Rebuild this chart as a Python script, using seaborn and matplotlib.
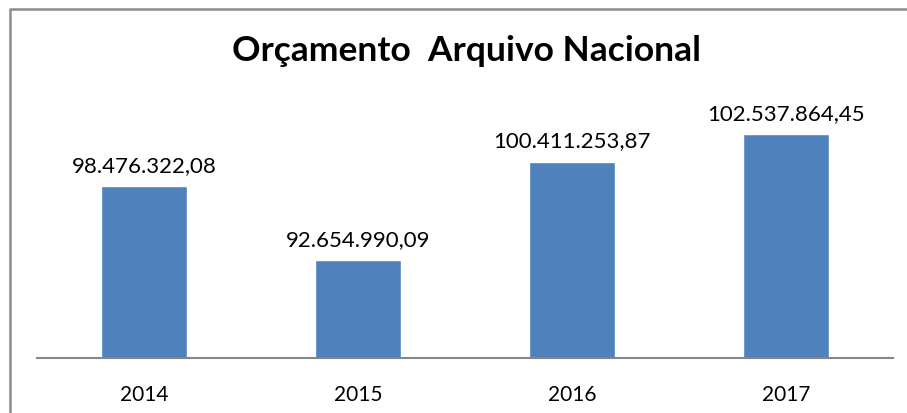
import matplotlib
matplotlib.use("Agg")
import matplotlib.pyplot as plt
import seaborn as sns
import pandas as pd
from matplotlib.lines import Line2D

# Dados do gráfico
anos = ["2014", "2015", "2016", "2017"]
orcamento = [98476322.08, 92654990.09, 100411253.87, 102537864.45]

df = pd.DataFrame({"ano": anos, "orcamento": orcamento})


def formato_br(v):
    s = f"{v:,.2f}"
    return s.replace(",", "X").replace(".", ",").replace("X", ".")


sns.set_style("white")
plt.rcParams["font.family"] = ["Lato", "DejaVu Sans"]
plt.rcParams["text.color"] = "black"
plt.rcParams["xtick.color"] = "black"

fig = plt.figure(figsize=(9.07, 4.14), dpi=100)
ax = fig.add_axes([37 / 907, 1 - 359 / 414, (893 - 37) / 907, (359 - 104) / 414])

sns.barplot(data=df, x="ano", y="orcamento", color="#4F81BD", saturation=1,
            width=0.4, ax=ax)
ax.set_ylim(85e6, 105e6)
ax.bar_label(ax.containers[0], labels=[formato_br(v) for v in orcamento],
             padding=8, fontsize=16, color="black")

ax.set_xlabel("")
ax.set_ylabel("")
ax.set_yticks([])
ax.tick_params(axis="x", length=0, labelsize=15, pad=19, labelcolor="black")
for lado in ["top", "right", "left"]:
    ax.spines[lado].set_visible(False)
ax.spines["bottom"].set_color("#868686")
ax.spines["bottom"].set_linewidth(1.5)

fig.text(466 / 907, 1 - 51 / 414, "Orçamento  Arquivo Nacional",
         ha="center", va="center", fontsize=25.5, fontweight="bold",
         color="black")

# moldura do gráfico
fig.add_artist(Line2D([9.5 / 907, 9.5 / 907, 1], [0, 1 - 10 / 414, 1 - 10 / 414],
                      transform=fig.transFigure, color="#8C8C8C", linewidth=1.8))

fig.savefig("out.png", dpi=100)
